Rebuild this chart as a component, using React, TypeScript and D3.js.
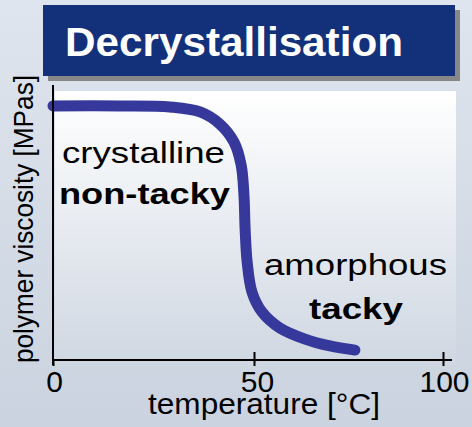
import React, { useEffect, useRef } from 'react';
import * as d3 from 'd3';

// temperature [°C] vs. viscosity (arbitrary units)
const temps = [0, 16.7, 29.1, 36.6, 41.5, 45.0, 46.8, 47.5, 47.8, 48.3, 49.5, 52.1, 56.9, 63.5, 70.1, 76.7];
const viscosity = [92.4, 92.4, 92.0, 90.2, 85.8, 79.3, 70.9, 60.0, 47.3, 35.6, 24.7, 17.5, 11.6, 7.6, 5.1, 3.6];
const xTicks = [0, 50, 100];

const title = 'Decrystallisation';
const xLabel = 'temperature [°C]';
const yLabel = 'polymer viscosity [MPas]';

const FONT = '"Liberation Sans", Arial, Helvetica, sans-serif';

const App = () => {
  const svgRef = useRef<SVGSVGElement>(null);

  useEffect(() => {
    const width = 472;
    const height = 427;
    const svg = d3.select(svgRef.current).attr('width', width).attr('height', height);
    svg.selectAll('*').remove();

    const defs = svg.append('defs');
    const bg = defs.append('linearGradient').attr('id', 'bg').attr('x1', 0).attr('y1', 0).attr('x2', 0).attr('y2', 1);
    bg.append('stop').attr('offset', '0%').attr('stop-color', '#dfe5ee');
    bg.append('stop').attr('offset', '100%').attr('stop-color', '#cad3df');
    const pg = defs.append('linearGradient').attr('id', 'plotbg').attr('x1', 0).attr('y1', 0).attr('x2', 0).attr('y2', 1);
    pg.append('stop').attr('offset', '0%').attr('stop-color', '#ffffff');
    pg.append('stop').attr('offset', '100%').attr('stop-color', '#cfd7e2');

    svg.append('rect').attr('width', width).attr('height', height).attr('fill', 'url(#bg)');

    // x: slightly uneven spacing in the original drawing
    const x = d3.scaleLinear().domain([0, 50, 100]).range([53, 254, 443]);
    const y = d3.scaleLinear().domain([0, 100]).range([360, 85]);

    // plot area
    svg.append('rect')
      .attr('x', 55).attr('y', 91)
      .attr('width', 401).attr('height', 274)
      .attr('fill', 'url(#plotbg)');

    // title box with shadow
    svg.append('rect').attr('x', 48).attr('y', 10).attr('width', 412).attr('height', 71).attr('fill', '#878787');
    svg.append('rect').attr('x', 43).attr('y', 5).attr('width', 412).attr('height', 71).attr('fill', '#13317b');
    svg.append('text')
      .attr('x', 65).attr('y', 56)
      .attr('font-family', FONT).attr('font-size', 40).attr('font-weight', 'bold')
      .attr('fill', '#ffffff')
      .attr('textLength', 338).attr('lengthAdjust', 'spacingAndGlyphs')
      .text(title);

    // curve
    const pts = temps.map((t, i) => [t, viscosity[i]] as [number, number]);
    const line = d3.line<[number, number]>()
      .x(d => x(d[0]))
      .y(d => y(d[1]))
      .curve(d3.curveCatmullRom.alpha(0.5));
    svg.append('path')
      .datum(pts)
      .attr('d', line)
      .attr('fill', 'none')
      .attr('stroke', '#36389b')
      .attr('stroke-width', 11)
      .attr('stroke-linecap', 'round')
      .attr('stroke-linejoin', 'round');

    // axes
    svg.append('line')
      .attr('x1', x(0)).attr('x2', x(0))
      .attr('y1', y(100)).attr('y2', y(0) + 5)
      .attr('stroke', '#000').attr('stroke-width', 2);

    const xAxis = svg.append('g')
      .attr('transform', `translate(0, ${y(0)})`)
      .call(d3.axisBottom(x).tickValues(xTicks).tickSize(0).tickSizeOuter(0).tickPadding(0));
    xAxis.select('.domain').remove();
    xAxis.append('line')
      .attr('x1', x(0)).attr('x2', 452)
      .attr('stroke', '#000').attr('stroke-width', 2);
    xAxis.selectAll('.tick line')
      .attr('y1', (d: any) => (d === 0 ? 0 : -8)).attr('y2', 6)
      .attr('stroke', '#000').attr('stroke-width', 2);
    xAxis.selectAll('.tick text')
      .attr('y', 32).attr('dy', 0)
      .attr('dx', (d: any) => (d === 0 ? 1 : d === 50 ? 3 : 1))
      .attr('font-family', FONT).attr('font-size', 30)
      .attr('fill', '#000');

    svg.append('text')
      .attr('x', 148).attr('y', 414)
      .attr('font-family', FONT).attr('font-size', 29)
      .attr('textLength', 232).attr('lengthAdjust', 'spacingAndGlyphs')
      .text(xLabel);

    svg.append('text')
      .attr('transform', 'translate(33, 219) rotate(-90)')
      .attr('text-anchor', 'middle')
      .attr('font-family', FONT).attr('font-size', 28)
      .attr('textLength', 288).attr('lengthAdjust', 'spacingAndGlyphs')
      .text(yLabel);

    // annotations
    const notes = [
      { text: 'crystalline', x: 62, y: 163, w: 163, bold: false },
      { text: 'non-tacky', x: 59, y: 204, w: 171, bold: true },
      { text: 'amorphous', x: 264, y: 275, w: 183, bold: false },
      { text: 'tacky', x: 309, y: 319, w: 94, bold: true },
    ];
    svg.selectAll('text.note')
      .data(notes)
      .join('text')
      .attr('class', 'note')
      .attr('x', d => d.x).attr('y', d => d.y)
      .attr('font-family', FONT).attr('font-size', 30)
      .attr('font-weight', d => (d.bold ? 'bold' : 'normal'))
      .attr('textLength', d => d.w).attr('lengthAdjust', 'spacingAndGlyphs')
      .attr('fill', '#000')
      .text(d => d.text);
  }, []);

  return (
    <svg ref={svgRef} style={{ position: 'absolute', left: 0, top: 0, display: 'block' }}></svg>
  );
};

export default App;
